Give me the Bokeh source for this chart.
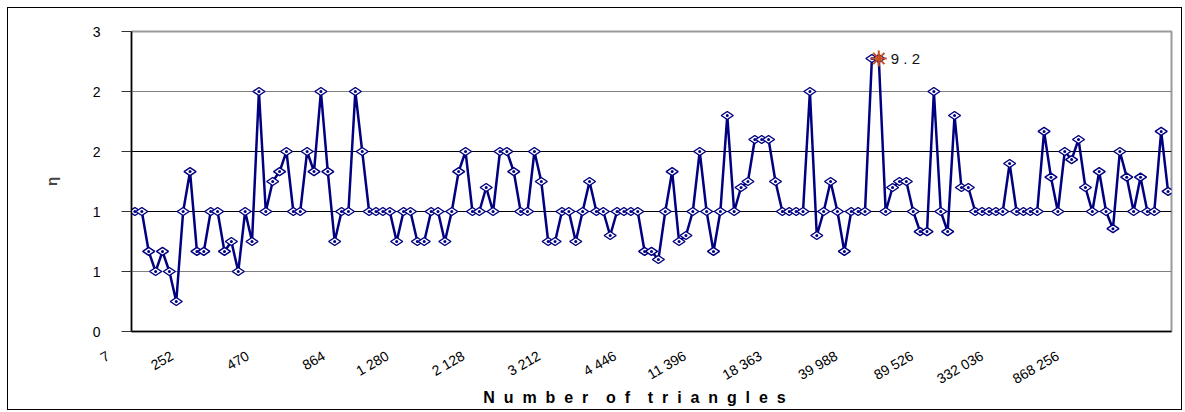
import math
from bokeh.plotting import figure
from bokeh.models import (ColumnDataSource, FixedTicker, Grid, Label, Range1d)
from bokeh.embed import file_html
from bokeh.resources import INLINE
from bokeh.core.properties import value

# ---- data ----
eta = [1.0, 1.0, 0.667, 0.5, 0.667, 0.5, 0.25, 1.0, 1.333, 0.667,
       0.667, 1.0, 1.0, 0.667, 0.75, 0.5, 1.0, 0.75, 2.0, 1.0,
       1.25, 1.333, 1.5, 1.0, 1.0, 1.5, 1.333, 2.0, 1.333, 0.75,
       1.0, 1.0, 2.0, 1.5, 1.0, 1.0, 1.0, 1.0, 0.75, 1.0,
       1.0, 0.75, 0.75, 1.0, 1.0, 0.75, 1.0, 1.333, 1.5, 1.0,
       1.0, 1.2, 1.0, 1.5, 1.5, 1.333, 1.0, 1.0, 1.5, 1.25,
       0.75, 0.75, 1.0, 1.0, 0.75, 1.0, 1.25, 1.0, 1.0, 0.8,
       1.0, 1.0, 1.0, 1.0, 0.667, 0.667, 0.6, 1.0, 1.333, 0.75,
       0.8, 1.0, 1.5, 1.0, 0.667, 1.0, 1.8, 1.0, 1.2, 1.25,
       1.6, 1.6, 1.6, 1.25, 1.0, 1.0, 1.0, 1.0, 2.0, 0.8,
       1.0, 1.25, 1.0, 0.667, 1.0, 1.0, 1.0, 2.275, 2.275, 1.0,
       1.2, 1.25, 1.25, 1.0, 0.833, 0.833, 2.0, 1.0, 0.833, 1.8,
       1.2, 1.2, 1.0, 1.0, 1.0, 1.0, 1.0, 1.4, 1.0, 1.0,
       1.0, 1.0, 1.667, 1.286, 1.0, 1.5, 1.433, 1.6, 1.2, 1.0,
       1.333, 1.0, 0.857, 1.5, 1.286, 1.0, 1.286, 1.0, 1.0, 1.667,
       1.167]

x_tick_labels = ["7", "252", "470", "864", "1 280", "2 128", "3 212", "4 446",
                 "11 396", "18 363", "39 988", "89 526", "332 036", "868 256"]
label_step = 11

y_ticks = [0, 0.5, 1.0, 1.5, 2.0, 2.5]
y_tick_labels = ["0", "1", "1", "2", "2", "3"]

peak_label = "9 . 2"
x_title_words = ["Number", "of", "triangles"]
y_title = "η"

FONT = "Liberation Sans"
NAVY = "#000080"
GAP = " \u00a0"            # wide letter spacing of the axis title
x_title = (GAP + GAP).join(GAP.join(w) for w in x_title_words)

N = len(eta)
xs = list(range(N))
peak_idx = N - 1 - eta[::-1].index(max(eta))

W, H = 1175, 403
BL, BR, BT, BB = 123, 12, 23, 80

p = figure(width=W, height=H, output_backend="svg", toolbar_location=None,
           x_range=Range1d(-0.5, N - 0.5), y_range=Range1d(0, 2.5),
           min_border_left=BL, min_border_right=BR, min_border_top=BT,
           min_border_bottom=BB)
p.styles = {"border": "1px solid #000000", "margin-left": "7px", "margin-top": "7px"}
p.background_fill_color = "white"
p.border_fill_color = "white"
p.outline_line_color = "#9a9a9a"
p.outline_line_width = 2

# x axis: line only (category labels drawn below as rotated text)
p.xaxis.ticker = FixedTicker(ticks=[])
p.xaxis.major_label_text_font_size = "0px"
p.xaxis.axis_line_color = "black"
p.xaxis.axis_line_width = 1.5
p.xaxis.major_tick_line_color = None
p.xaxis.minor_tick_line_color = None
p.xaxis.major_tick_out = 0
p.xaxis.major_tick_in = 0

# y axis
p.yaxis.ticker = FixedTicker(ticks=y_ticks)
p.yaxis.major_label_overrides = {t: l for t, l in zip(y_ticks, y_tick_labels)}
p.yaxis.axis_line_color = "black"
p.yaxis.axis_line_width = 1.5
p.yaxis.major_tick_out = 10
p.yaxis.major_tick_in = 0
p.yaxis.major_tick_line_color = "#333333"
p.yaxis.minor_tick_line_color = None
p.yaxis.major_label_standoff = 21
p.yaxis.major_label_text_font = FONT
p.yaxis.major_label_text_font_size = "14px"
p.yaxis.major_label_text_color = "black"
p.yaxis.axis_label = y_title
p.yaxis.axis_label_text_font = FONT
p.yaxis.axis_label_text_font_style = "bold"
p.yaxis.axis_label_text_font_size = "15px"
p.yaxis.axis_label_standoff = 30

# grid
p.xgrid.visible = False
p.ygrid.ticker = FixedTicker(ticks=[0.5, 2.0, 2.5])
p.ygrid.grid_line_color = "#808080"
p.add_layout(Grid(dimension=1, ticker=FixedTicker(ticks=[1.0, 1.5]),
                  grid_line_color="#000000"))

# series
src = ColumnDataSource(dict(x=xs, eta=eta))
p.line("x", "eta", source=src, line_color=NAVY, line_width=2.5)
p.scatter("x", "eta", source=src, marker="diamond_dot", size=12, angle=math.pi / 2,
          line_color=NAVY, fill_color="white", line_width=1.5)

# highlighted point
pk = ColumnDataSource(dict(x=[peak_idx], eta=[eta[peak_idx]], label=[peak_label]))
p.scatter("x", "eta", source=pk, marker="asterisk", size=16, angle=math.pi / 2,
          line_color="#C8501E", line_width=2)
p.text("x", "eta", text="label", source=pk, x_offset=12, text_baseline="middle",
       text_font=value(FONT), text_font_size="15px", text_color="#111111")

# category labels: every 11th category, rotated; text ends left of the category
lab_src = ColumnDataSource(dict(
    x=[k * label_step for k in range(len(x_tick_labels))],
    y=[0] * len(x_tick_labels),
    text=x_tick_labels,
    xo=[-(20.9 + 5.9 * len(s)) for s in x_tick_labels]))
p.text("x", "y", text="text", source=lab_src, x_offset="xo", y_offset=23,
       angle=30, angle_units="deg", text_align="right", text_baseline="middle",
       text_font=value(FONT), text_font_size="14px", text_color="black",
       level="overlay")

# x axis title
p.add_layout(Label(x=(N - 1) / 2, y=0, x_offset=-17, y_offset=-65.5, text=x_title,
                   text_align="center", text_baseline="middle", text_font=FONT,
                   text_font_style="bold", text_font_size="16px", text_color="black"),
             "above")

open("out.html", "w").write(file_html(p, INLINE))
